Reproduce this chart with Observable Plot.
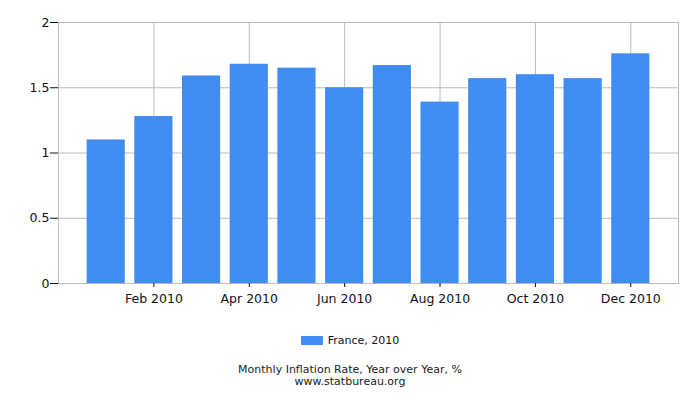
<!DOCTYPE html>
<html>
<head>
<meta charset="utf-8">
<script src="https://cdn.jsdelivr.net/npm/d3@7"></script>
<script src="https://cdn.jsdelivr.net/npm/@observablehq/plot@0.6"></script>
<style>
  body { margin: 0; background: #fff; font-family: "DejaVu Sans", sans-serif; }
  #wrap { width: 700px; height: 400px; position: relative; }
  #legend { position: absolute; top: 334px; left: 0; width: 700px; text-align: center; font-size: 11px; color: #111; }
  #legend .sw { display: inline-block; width: 22px; height: 9px; background: #418cf0; margin-right: 5px; vertical-align: -1px; }
  .cap { position: absolute; left: 0; width: 700px; text-align: center; font-size: 11px; line-height: 12px; height: 12px; color: #222; }
  #cap1 { top: 364px; }
  #cap2 { top: 376px; }
</style>
</head>
<body>
<div id="wrap">
  <div id="chart"></div>
  <div id="legend"><span class="sw"></span>France, 2010</div>
  <div class="cap" id="cap1">Monthly Inflation Rate, Year over Year, %</div>
  <div class="cap" id="cap2">www.statbureau.org</div>
</div>
<script>
const months = ["Jan 2010","Feb 2010","Mar 2010","Apr 2010","May 2010","Jun 2010","Jul 2010","Aug 2010","Sep 2010","Oct 2010","Nov 2010","Dec 2010"];
const values = [1.10, 1.28, 1.59, 1.68, 1.65, 1.50, 1.67, 1.39, 1.57, 1.60, 1.57, 1.76];
const xTickLabels = ["Feb 2010","Apr 2010","Jun 2010","Aug 2010","Oct 2010","Dec 2010"];
const yTicks = [0, 0.5, 1, 1.5, 2];

const data = months.map((m, i) => ({month: m, value: values[i]}));

const chart = Plot.plot({
  width: 700,
  height: 318,
  marginLeft: 58,
  marginRight: 22,
  marginTop: 22,
  marginBottom: 35,
  style: {fontFamily: "DejaVu Sans, sans-serif", fontSize: "12.5px", color: "#111", background: "#fff"},
  x: {type: "band", domain: months, paddingInner: 0.2, paddingOuter: 0.6, round: false, label: null},
  y: {domain: [0, 2], label: null},
  marks: [
    Plot.gridY(yTicks, {stroke: "#bbb", strokeOpacity: 1}),
    Plot.gridX(xTickLabels, {stroke: "#bbb", strokeOpacity: 1}),
    Plot.barY(data, {x: "month", y: "value", fill: "#418cf0"}),
    Plot.frame({stroke: "#bbb"}),
    Plot.axisY(yTicks, {tickSize: 8, tickPadding: 1, tickFormat: d => String(d), stroke: "#111", label: null}),
    Plot.axisX(xTickLabels, {tickSize: 4, tickPadding: 7, stroke: "#111", label: null})
  ]
});
document.getElementById("chart").appendChild(chart);
</script>
</body>
</html>
